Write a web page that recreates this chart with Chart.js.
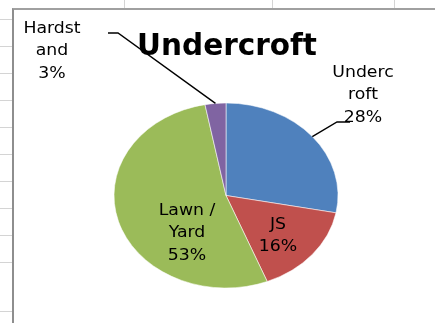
<!DOCTYPE html>
<html>
<head>
<meta charset="utf-8">
<script src="https://cdn.jsdelivr.net/npm/chart.js@4"></script>
<style>
    html, body { margin: 0; padding: 0; background: #fff; }
    body { width: 435px; height: 323px; position: relative; overflow: hidden; }
    .gridv { position: absolute; top: 0; width: 1px; height: 8px; background: #d4d4d4; }
    .gridh { position: absolute; left: 0; width: 12px; height: 1px; background: #d4d4d4; }
    #frame { position: absolute; left: 12px; top: 8px; width: 440px; height: 330px;
             border-left: 2px solid #8e8e8e; border-top: 2px solid #a0a0a0; background: #fff; }
    #chart { position: absolute; left: 0; top: 0; }
</style>
</head>
<body>
<div id="sheet"></div>
<div id="frame"></div>
<canvas id="chart" width="435" height="323"></canvas>
<script>
// Pie data
const categories = ['Undercroft', 'JS', 'Lawn / Yard', 'Hardstand'];
const shares = [28, 16, 53, 3];
// label text as wrapped in the picture
const labelText = [['Underc', 'roft'], ['JS'], ['Lawn /', 'Yard'], ['Hardst', 'and']];
const colors = ['#4f81bd', '#c0504d', '#9bbb59', '#8064a2'];

// layout only
const SQUASH = 0.826;               // pie is drawn as an ellipse
const labelPos = [[363, 95], [278, 236], [187, 233], [52, 51]];
const leaders = { 0: [[337, 122], [350, 122]], 3: [[118, 33], [108, 33]] };

// spreadsheet grid behind the chart
const sheet = document.getElementById('sheet');
[124, 272, 394].forEach(x => {
    const d = document.createElement('div');
    d.className = 'gridv';
    d.style.left = x + 'px';
    sheet.appendChild(d);
});
[19, 46, 73, 100, 127, 154, 181, 208, 235, 262, 311].forEach(y => {
    const d = document.createElement('div');
    d.className = 'gridh';
    d.style.top = y + 'px';
    sheet.appendChild(d);
});

const ellipsePlugin = {
    id: 'ellipse',
    beforeDatasetsDraw(chart) {
        const a = chart.getDatasetMeta(0).data[0];
        const ctx = chart.ctx;
        ctx.save();
        ctx.translate(a.x, a.y);
        ctx.scale(1, SQUASH);
        ctx.translate(-a.x, -a.y);
    },
    afterDatasetsDraw(chart) {
        chart.ctx.restore();
    },
    afterDraw(chart) {
        const ctx = chart.ctx;
        const arcs = chart.getDatasetMeta(0).data;

        // title
        ctx.save();
        ctx.fillStyle = '#000';
        ctx.textAlign = 'center';
        ctx.textBaseline = 'alphabetic';
        ctx.font = 'bold 29.5px "DejaVu Sans"';
        ctx.fillText('Undercroft', 227, 55);

        // leader lines
        ctx.strokeStyle = '#000';
        ctx.lineWidth = 1.4;
        Object.keys(leaders).forEach(i => {
            const a = arcs[i];
            const mid = (a.startAngle + a.endAngle) / 2;
            const sx = a.x + a.outerRadius * Math.cos(mid);
            const sy = a.y + a.outerRadius * SQUASH * Math.sin(mid);
            ctx.beginPath();
            ctx.moveTo(sx, sy);
            leaders[i].forEach(p => ctx.lineTo(p[0], p[1]));
            ctx.stroke();
        });

        // data labels
        ctx.font = '16px "DejaVu Sans"';
        ctx.textBaseline = 'middle';
        categories.forEach((c, i) => {
            const lines = labelText[i].concat([shares[i] + '%']);
            const lh = 22.5;
            const y0 = labelPos[i][1] - (lines.length - 1) * lh / 2;
            lines.forEach((t, k) => {
                ctx.save();
                ctx.translate(labelPos[i][0], y0 + k * lh);
                ctx.scale(1.08, 1);
                ctx.fillText(t, 0, 0);
                ctx.restore();
            });
        });
        ctx.restore();
    }
};

new Chart(document.getElementById('chart'), {
    type: 'pie',
    data: {
        labels: categories,
        datasets: [{
            data: shares,
            backgroundColor: colors,
            borderColor: 'rgba(255,255,255,0.6)',
            borderWidth: 1,
            hoverOffset: 0
        }]
    },
    options: {
        responsive: false,
        animation: false,
        devicePixelRatio: 1,
        radius: 112,
        layout: { padding: { left: 114, right: 97, top: 83.5, bottom: 15.5 } },
        plugins: {
            legend: { display: false },
            tooltip: { enabled: false }
        }
    },
    plugins: [ellipsePlugin]
});
</script>
</body>
</html>
